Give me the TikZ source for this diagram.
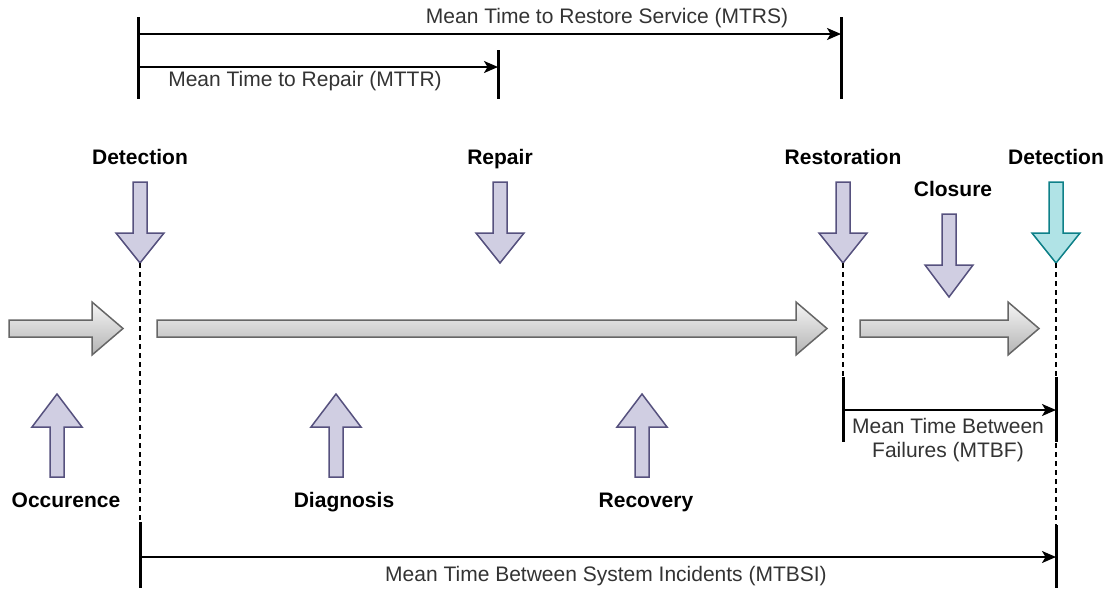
\documentclass[tikz,border=0pt]{standalone}
\usepackage{fontspec}
\setmainfont{Liberation Sans}
\usetikzlibrary{arrows.meta}
\definecolor{purpfill}{HTML}{D0CEE2}
\definecolor{purpline}{HTML}{56517E}
\definecolor{tealfill}{HTML}{B0E3E6}
\definecolor{tealline}{HTML}{0E8088}
\definecolor{greyline}{HTML}{666666}
\definecolor{greytop}{HTML}{F5F5F5}
\definecolor{greybot}{HTML}{B3B3B3}
\definecolor{txtgrey}{HTML}{333333}
\tikzset{
  purparrow/.style={fill=purpfill, draw=purpline, line width=1.5pt, line join=miter},
  tealarrow/.style={fill=tealfill, draw=tealline, line width=1.5pt, line join=miter},
  greyarrow/.style={top color=greytop, bottom color=greybot, draw=greyline, line width=1.5pt, line join=miter},
  barline/.style={line width=3pt},
  measline/.style={line width=1.5pt, -{Stealth[length=14pt,width=12pt,inset=3.5pt]}},
  guideline/.style={line width=1.5pt, dash pattern=on 4.5pt off 4.5pt},
  evlabel/.style={font=\fontsize{21}{25}\selectfont\bfseries, inner sep=0pt, anchor=base},
  mlabel/.style={font=\fontsize{21}{25}\selectfont, text=txtgrey, align=center, inner sep=0pt},
}
\begin{document}
\begin{tikzpicture}[x=1pt,y=-1pt]
\useasboundingbox (0,0) rectangle (1112,590);

% ---------- top measurement bars ----------
\coordinate (barLtop) at (138,17);
\coordinate (barLbot) at (138,99);
\coordinate (barMtop) at (841,17);
\coordinate (barMbot) at (841,99);
\coordinate (barRtop) at (498,50);
\coordinate (barRbot) at (498,99);
\draw[barline] (barLtop) -- (barLbot);
\draw[barline] (barMtop) -- (barMbot);
\draw[barline] (barRtop) -- (barRbot);
\coordinate (mtrsA) at (138,34);
\coordinate (mtrsB) at (841,34);
\coordinate (mttrA) at (138,67);
\coordinate (mttrB) at (498,67);
\draw[measline] (mtrsA) -- (mtrsB);
\draw[measline] (mttrA) -- (mttrB);
\node[mlabel] (mtrs) at (607,18) {Mean Time to Restore Service (MTRS)};
\node[mlabel] (mttr) at (305,81) {Mean Time to Repair (MTTR)};

% ---------- event labels ----------
\node[evlabel] (lDet1) at (140,164.5) {Detection};
\node[evlabel] (lRep) at (500,164.5) {Repair};
\node[evlabel] (lRes) at (843,164.5) {Restoration};
\node[evlabel] (lDet2) at (1056,164.5) {Detection};
\node[evlabel] (lClo) at (953,196.5) {Closure};
\node[evlabel] (lOcc) at (66,507.5) {Occurence};
\node[evlabel] (lDia) at (344,507.5) {Diagnosis};
\node[evlabel] (lRec) at (646,507.5) {Recovery};

% ---------- down arrows ----------
\begin{scope}[shift={(140,0)}]
  \draw[purparrow] (-7,182) -- (7,182) -- (7,233) -- (24,233) -- (0,263) -- (-24,233) -- (-7,233) -- cycle;
\end{scope}
\begin{scope}[shift={(500,0)}]
  \draw[purparrow] (-7,182) -- (7,182) -- (7,233) -- (24,233) -- (0,263) -- (-24,233) -- (-7,233) -- cycle;
\end{scope}
\begin{scope}[shift={(843,0)}]
  \draw[purparrow] (-7,182) -- (7,182) -- (7,233) -- (24,233) -- (0,263) -- (-24,233) -- (-7,233) -- cycle;
\end{scope}
\begin{scope}[shift={(949,0)}]
  \draw[purparrow] (-7,214) -- (7,214) -- (7,265) -- (24,265) -- (0,297) -- (-24,265) -- (-7,265) -- cycle;
\end{scope}
\begin{scope}[shift={(1056,0)}]
  \draw[tealarrow] (-7,182) -- (7,182) -- (7,233) -- (24,233) -- (0,263) -- (-24,233) -- (-7,233) -- cycle;
\end{scope}

% ---------- up arrows ----------
\begin{scope}[shift={(57,0)}]
  \draw[purparrow] (0,394) -- (25,427) -- (7,427) -- (7,477) -- (-7,477) -- (-7,427) -- (-25,427) -- cycle;
\end{scope}
\begin{scope}[shift={(336,0)}]
  \draw[purparrow] (0,394) -- (25,427) -- (7,427) -- (7,477) -- (-7,477) -- (-7,427) -- (-25,427) -- cycle;
\end{scope}
\begin{scope}[shift={(642,0)}]
  \draw[purparrow] (0,394) -- (25,427) -- (7,427) -- (7,477) -- (-7,477) -- (-7,427) -- (-25,427) -- cycle;
\end{scope}

% ---------- grey timeline arrows ----------
\draw[greyarrow] (9,320) -- (92,320) -- (92,302) -- (123,328.5) -- (92,355) -- (92,337) -- (9,337) -- cycle;
\draw[greyarrow] (157,320) -- (796,320) -- (796,302) -- (827,328.5) -- (796,355) -- (796,337) -- (157,337) -- cycle;
\draw[greyarrow] (860,320) -- (1008,320) -- (1008,302) -- (1039,328.5) -- (1008,355) -- (1008,337) -- (860,337) -- cycle;

% ---------- dashed guides ----------
\coordinate (det1Tip) at (140,263);
\coordinate (det1Bot) at (140,522);
\coordinate (resTip) at (843,263);
\coordinate (resBot) at (843,377);
\coordinate (det2Tip) at (1056,263);
\coordinate (det2Bot) at (1056,525);
\draw[guideline] (det1Tip) -- (det1Bot);
\draw[guideline] (resTip) -- (resBot);
\draw[guideline] (det2Tip) -- (det2Bot);

% ---------- MTBF ----------
\coordinate (mtbfLtop) at (843,377);
\coordinate (mtbfLbot) at (843,442);
\coordinate (mtbfRtop) at (1056,377);
\coordinate (mtbfRbot) at (1056,442);
\draw[barline] (mtbfLtop) -- (mtbfLbot);
\draw[barline] (mtbfRtop) -- (mtbfRbot);
\coordinate (mtbfA) at (843,410);
\coordinate (mtbfB) at (1056,410);
\draw[measline] (mtbfA) -- (mtbfB);
\node[mlabel, font=\fontsize{21}{24}\selectfont] (mtbf) at (948,440) {Mean Time Between\\Failures (MTBF)};

% ---------- MTBSI ----------
\coordinate (mtbsiLtop) at (140,522);
\coordinate (mtbsiLbot) at (140,588);
\coordinate (mtbsiRtop) at (1056,525);
\coordinate (mtbsiRbot) at (1056,588);
\draw[barline] (mtbsiLtop) -- (mtbsiLbot);
\draw[barline] (mtbsiRtop) -- (mtbsiRbot);
\coordinate (mtbsiA) at (140,557);
\coordinate (mtbsiB) at (1056,557);
\draw[measline] (mtbsiA) -- (mtbsiB);
\node[mlabel] (mtbsi) at (606,576) {Mean Time Between System Incidents (MTBSI)};
\end{tikzpicture}
\end{document}
